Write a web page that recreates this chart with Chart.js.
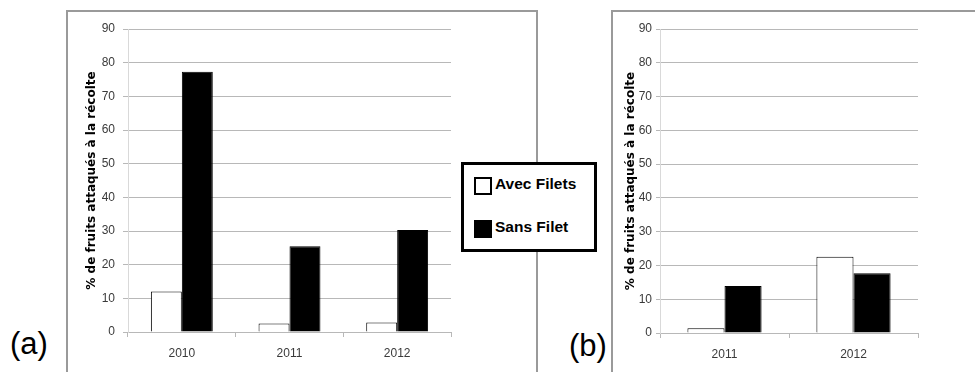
<!DOCTYPE html>
<html>
<head>
<meta charset="utf-8">
<script src="https://cdn.jsdelivr.net/npm/chart.js@4/dist/chart.umd.min.js"></script>
<style>
  html, body { margin: 0; padding: 0; background: #fff; overflow: hidden; }
  body { width: 975px; height: 372px; position: relative; font-family: "Liberation Sans", Arial, sans-serif; }
  .frame { position: absolute; border: 2px solid #9a9a9a; box-sizing: border-box; }
  canvas { position: absolute; }
  .panel-label { position: absolute; font-size: 31px; line-height: 31px; color: #000; }
  #legend { position: absolute; left: 461px; top: 162px; width: 136px; height: 90px; border: 3px solid #000; box-sizing: border-box; background: #fff; }
  .legend-item { position: absolute; left: 10px; font-weight: bold; font-size: 15.5px; line-height: 18px; color: #000; }
  .legend-item .swatch { position: absolute; left: 0; top: 0; width: 18px; height: 18px; box-sizing: border-box; border: 2px solid #000; }
  .legend-item span { position: absolute; left: 21px; top: -2px; white-space: nowrap; }
</style>
</head>
<body>
<div class="frame" style="left:66px; top:10px; width:472px; height:380px;"></div>
<div class="frame" style="left:611px; top:10px; width:380px; height:380px;"></div>

<canvas id="chartA" width="471" height="362" style="left:66px; top:10px;"></canvas>
<canvas id="chartB" width="363" height="362" style="left:612px; top:10px;"></canvas>

<div id="legend"></div>

<div class="panel-label" style="left:10px; top:328px;">(a)</div>
<div class="panel-label" style="left:569px; top:330px;">(b)</div>

<script>
const seriesNames = ['Avec Filets', 'Sans Filet'];
const seriesFills = ['#ffffff', '#000000'];

const yearsA = ['2010', '2011', '2012'];
const avecFiletsA = [12.0, 2.5, 2.8];
const sansFiletA = [77.3, 25.5, 30.3];

const yearsB = ['2011', '2012'];
const avecFiletsB = [1.4, 22.6];
const sansFiletB = [13.9, 17.7];

const yMin = 0;
const yMax = 90;
const yStep = 10;
const yTitle = '% de fruits attaqués à la récolte';

Chart.defaults.font.family = '"Liberation Sans", Arial, sans-serif';
Chart.defaults.color = '#3a3a3a';

function buildDatasets(avec, sans) {
  return [avec, sans].map((values, index) => ({
    label: seriesNames[index],
    data: values,
    backgroundColor: seriesFills[index],
    borderColor: '#000000',
    borderWidth: 1,
    barPercentage: 1,
    categoryPercentage: 0.575
  }));
}

function makeChart(canvasId, labels, avec, sans, look) {
  const canvas = document.getElementById(canvasId);
  return new Chart(canvas, {
    type: 'bar',
    data: { labels: labels, datasets: buildDatasets(avec, sans) },
    options: {
      responsive: false,
      animation: false,
      devicePixelRatio: 1,
      layout: { padding: { left: 0, top: look.top, right: look.right, bottom: 0 } },
      plugins: { legend: { display: false }, tooltip: { enabled: false } },
      scales: {
        x: {
          afterFit: scale => { scale.height = look.xHeight; },
          grid: { drawOnChartArea: false, color: '#b8b8b8', tickLength: 5 },
          border: { color: '#b8b8b8' },
          ticks: { font: { family: look.tickFamily, size: 12 }, padding: look.xPad, color: '#3a3a3a' }
        },
        y: {
          min: yMin,
          max: yMax,
          afterFit: scale => { scale.width = look.yWidth; },
          grid: { color: '#b8b8b8', tickLength: look.yTick },
          border: { color: '#d9d9d9' },
          ticks: { stepSize: yStep, font: { family: look.tickFamily, size: 12 }, padding: look.yPad, color: '#3a3a3a' },
          title: {
            display: true,
            text: yTitle,
            color: '#000000',
            padding: look.titlePad,
            font: { family: '"DejaVu Sans", Verdana, sans-serif', size: 12, weight: 'bold' }
          }
        }
      }
    }
  });
}

makeChart('chartA', yearsA, avecFiletsA, sansFiletA, {
  top: 19, right: 86, xHeight: 40, yWidth: 62, yTick: 5, yPad: 8, xPad: 9,
  titlePad: 18.5, tickFamily: '"Liberation Sans", Arial, sans-serif'
});

makeChart('chartB', yearsB, avecFiletsB, sansFiletB, {
  top: 19, right: 57, xHeight: 39, yWidth: 48, yTick: 4, yPad: 4, xPad: 9,
  titlePad: 12, tickFamily: '"Liberation Sans Narrow", "Liberation Sans", sans-serif'
});

// Legend shared by both panels
const legend = document.getElementById('legend');
const legendTops = [12, 55];
seriesNames.forEach((name, index) => {
  const item = document.createElement('div');
  item.className = 'legend-item';
  item.style.top = legendTops[index] + 'px';
  item.innerHTML = `<div class="swatch" style="background:${seriesFills[index]}"></div><span>${name}</span>`;
  legend.appendChild(item);
});
</script>
</body>
</html>
